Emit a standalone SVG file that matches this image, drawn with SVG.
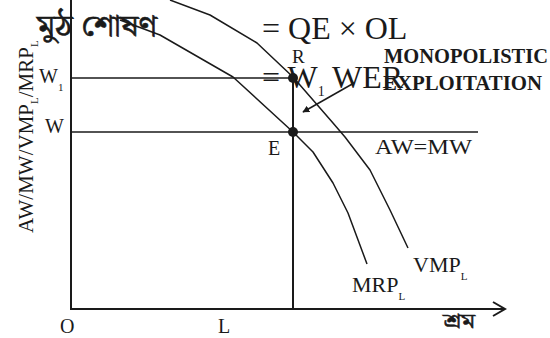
<svg xmlns="http://www.w3.org/2000/svg" width="550" height="338" viewBox="0 0 550 338">
<style>
.t{font-family:'Liberation Serif','Times New Roman',Times,'DejaVu Serif',serif;fill:#1a1a1a}
.b{font-family:'Liberation Serif','Times New Roman',Times,'DejaVu Serif',serif;font-weight:bold;fill:#1a1a1a}
.bn{font-family:'Noto Serif Bengali','Noto Sans Bengali','Lohit Bengali','Noto Sans',sans-serif;fill:#1a1a1a}
.ln{stroke:#1a1a1a;fill:none;stroke-width:1.5}
.ax{stroke:#1a1a1a;fill:none;stroke-width:2}
</style>
<defs>
<marker id="ah" viewBox="0 0 10 10" refX="9" refY="5" markerWidth="7" markerHeight="7" orient="auto" markerUnits="userSpaceOnUse">
<path d="M0,0 L10,5 L0,10 z" fill="#1a1a1a"/>
</marker>
</defs>
<rect width="550" height="338" fill="#fff"/>
<g id="connectors">
<path class="ax" d="M71,0 V309 H505"/>
<path class="ax" d="M493,302 L505,309 L493,316"/>
<path class="ln" d="M71,78 H293"/>
<path class="ln" d="M71,132 H478"/>
<path class="ax" d="M293,78 V309"/>
<polyline class="ln" stroke-linejoin="round" points="170,0 210,15 257,43 293,77 333,123 345,137 370,170 390,210 408,248"/>
<polyline class="ln" stroke-linejoin="round" points="120,20 160,35 233,77 293,132 313,152 333,183 348,213 367,264"/>
<line class="ln" x1="354" y1="83" x2="303" y2="112" marker-end="url(#ah)"/>
</g>
<g id="points">
<circle cx="293" cy="78" r="5" fill="#1a1a1a"/>
<circle cx="293" cy="132" r="5" fill="#1a1a1a"/>
</g>
<g id="formula">
<text class="bn" x="37" y="36" font-size="30" stroke="#1a1a1a" stroke-width="0.6" textLength="120" lengthAdjust="spacingAndGlyphs">মুঠ শোষণ</text>
<text class="t" font-family="'Liberation Serif',serif" x="262" y="39" font-size="32">= QE × OL</text>
<text class="t" font-family="'Liberation Serif',serif" x="262" y="88" font-size="32">= W<tspan font-size="14" dy="8">1</tspan><tspan dy="-8"> WER</tspan></text>
</g>
<g id="label-R"><text class="t" font-family="'Liberation Serif',serif" x="292" y="63" font-size="19">R</text></g>
<g id="label-exploitation">
<text class="b" font-family="'Liberation Serif',serif" x="384" y="63" font-size="20" textLength="164" lengthAdjust="spacingAndGlyphs">MONOPOLISTIC</text>
<text class="b" font-family="'Liberation Serif',serif" x="383" y="90" font-size="20" textLength="159" lengthAdjust="spacingAndGlyphs">EXPLOITATION</text>
</g>
<g id="label-W1"><text class="t" font-family="'Liberation Serif',serif" x="39" y="83" font-size="20">W<tspan font-size="11" dy="8">1</tspan></text></g>
<g id="label-W"><text class="t" font-family="'Liberation Serif',serif" x="45" y="133" font-size="20">W</text></g>
<g id="label-E"><text class="t" font-family="'Liberation Serif',serif" x="268" y="155" font-size="20">E</text></g>
<g id="label-AWMW"><text class="t" font-family="'Liberation Serif',serif" x="375" y="154" font-size="20" textLength="97" lengthAdjust="spacingAndGlyphs">AW=MW</text></g>
<g id="label-VMP"><text class="t" font-family="'Liberation Serif',serif" x="413" y="272" font-size="22">VMP<tspan font-size="11" dy="8">L</tspan></text></g>
<g id="label-MRP"><text class="t" font-family="'Liberation Serif',serif" x="352" y="292" font-size="22">MRP<tspan font-size="11" dy="8">L</tspan></text></g>
<g id="label-O"><text class="t" font-family="'Liberation Serif',serif" x="60" y="333" font-size="20">O</text></g>
<g id="label-L"><text class="t" font-family="'Liberation Serif',serif" x="218" y="333" font-size="20">L</text></g>
<g id="label-x"><text class="bn" x="443" y="328" font-size="20" stroke="#1a1a1a" stroke-width="0.5" textLength="32" lengthAdjust="spacingAndGlyphs">শ্রম</text></g>
<g id="label-y"><text class="t" font-family="'Liberation Serif',serif" transform="translate(33,233) rotate(-90)" font-size="21">AW/MW/VMP<tspan font-size="11" dy="5">L</tspan><tspan dy="-5">/MRP</tspan><tspan font-size="11" dy="5">L</tspan></text></g>
</svg>
